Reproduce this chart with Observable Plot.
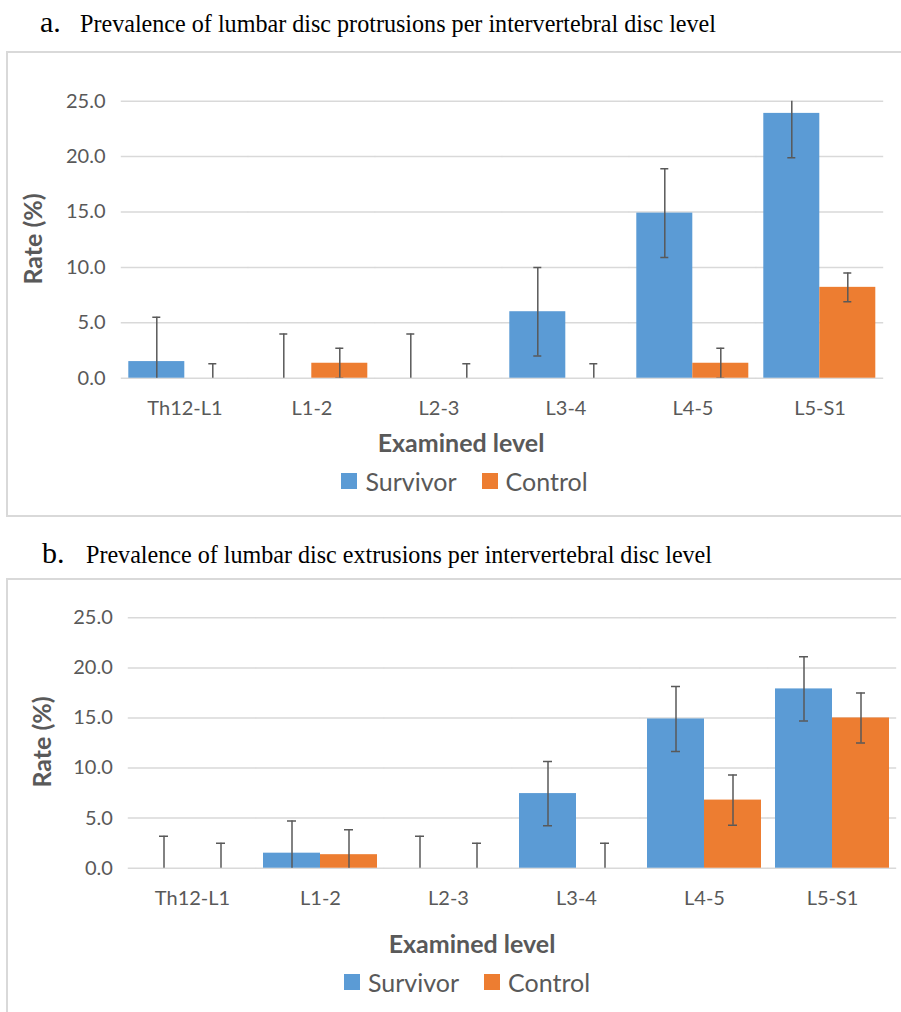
<!DOCTYPE html>
<html><head><meta charset="utf-8">
<script src="https://cdn.jsdelivr.net/npm/d3@7"></script>
<script src="https://cdn.jsdelivr.net/npm/@observablehq/plot@0.6"></script>
<style>
body{margin:0;background:#fff}
#root{position:relative;width:901px;height:1012px;overflow:hidden;background:#fff}
.frame{position:absolute;border:2px solid #d9d9d9;box-sizing:border-box}
.chart{position:absolute;left:0}
#overlay{position:absolute;left:0;top:0;pointer-events:none}
.legend{position:absolute;left:0;display:flex;justify-content:center}
.legend > *{font-family:Lato,sans-serif !important;font-size:25px !important;color:#595959 !important;margin:0 !important}
.legend svg{margin-right:8px !important}
.legend [class$="-swatch"]{margin-right:25px !important}
.legend [class$="-swatch"]:last-child{margin-right:0 !important}
</style></head>
<body><div id="root">
<div class="frame" style="left:6px;top:51px;width:1000px;height:466px"></div>
<div class="frame" style="left:6px;top:578px;width:1000px;height:600px"></div>
<div id="chartA" class="chart" style="top:80px"></div>
<div id="chartB" class="chart" style="top:590px"></div>
<div id="legA" class="legend" style="top:464px;width:929px"></div>
<div id="legB" class="legend" style="top:965px;width:934px"></div>
<svg id="overlay" width="901" height="1012" font-family="Lato, sans-serif" fill="#595959">
  <text x="40" y="32" font-family="Liberation Serif, serif" font-size="30" fill="#000">a.</text>
  <text x="80" y="32" font-family="Liberation Serif, serif" font-size="26" fill="#000" textLength="636" lengthAdjust="spacingAndGlyphs">Prevalence of lumbar disc protrusions per intervertebral disc level</text>
  <text x="42" y="563" font-family="Liberation Serif, serif" font-size="30" fill="#000">b.</text>
  <text x="86" y="563" font-family="Liberation Serif, serif" font-size="26" fill="#000" textLength="626" lengthAdjust="spacingAndGlyphs">Prevalence of lumbar disc extrusions per intervertebral disc level</text>
  <text x="461" y="452" text-anchor="middle" font-size="25" font-weight="bold">Examined level</text>
  <text x="472" y="953" text-anchor="middle" font-size="25" font-weight="bold">Examined level</text>
  <text transform="translate(32,239) rotate(-90)" text-anchor="middle" dominant-baseline="central" font-size="25" font-weight="bold">Rate (%)</text>
  <text transform="translate(40.5,742) rotate(-90)" text-anchor="middle" dominant-baseline="central" font-size="25" font-weight="bold">Rate (%)</text>
</svg>
</div>
<script>
const levels = ["Th12-L1", "L1-2", "L2-3", "L3-4", "L4-5", "L5-S1"];
const groups = ["Survivor", "Control"];
const yTicks = [0, 5, 10, 15, 20, 25];

// a. protrusions
const protSurvivor    = [1.5, 0, 0, 6.0, 14.9, 23.9];
const protSurvivorErr = [4.0, 4.0, 4.0, 4.0, 4.0, 4.0];
const protControl     = [0, 1.35, 0, 0, 1.35, 8.2];
const protControlErr  = [1.3, 1.35, 1.3, 1.3, 1.35, 1.3];

// b. extrusions
const extSurvivor    = [0, 1.5, 0, 7.45, 14.9, 17.9];
const extSurvivorErr = [3.2, 3.2, 3.2, 3.2, 3.25, 3.2];
const extControl     = [0, 1.35, 0, 0, 6.8, 15.0];
const extControlErr  = [2.5, 2.5, 2.5, 2.5, 2.5, 2.5];

const colors = ["#5B9BD5", "#ED7D31"];
const textColor = "#595959";

function rowsOf(sv, se, cv, ce) {
  const rows = [];
  levels.forEach((level, i) => {
    rows.push({level, group: "Survivor", value: sv[i], err: se[i]});
    rows.push({level, group: "Control", value: cv[i], err: ce[i]});
  });
  return rows;
}

function chart(rows, m) {
  return Plot.plot({
    width: 901,
    height: m.height,
    marginTop: m.top, marginBottom: m.bottom, marginLeft: m.left, marginRight: m.right,
    style: {fontFamily: "Lato, sans-serif", fontSize: "20px", color: textColor, background: "transparent", overflow: "visible"},
    fx: {domain: levels, paddingInner: 0.11, paddingOuter: 0.055, label: null, axis: "bottom", tickSize: 0, tickPadding: 23},
    x: {domain: groups, padding: 0, axis: null},
    y: {domain: [0, 25], ticks: yTicks, tickFormat: d3.format(".1f"), tickSize: 0, tickPadding: m.pad, label: null},
    color: {domain: groups, range: colors},
    marks: [
      Plot.ruleY(yTicks, {stroke: "#d9d9d9", strokeWidth: 1.5, insetLeft: -7.2, insetRight: -7.2}),
      Plot.barY(rows, {fx: "level", x: "group", y: "value", fill: "group"}),
      Plot.ruleX(rows, {fx: "level", x: "group", y1: d => d.value - d.err, y2: d => d.value + d.err, stroke: textColor, strokeWidth: 1.5, clip: true}),
      Plot.tickY(rows, {fx: "level", x: "group", y: d => d.value + d.err, stroke: textColor, strokeWidth: 1.5, insetLeft: 24, insetRight: 24, clip: true}),
      Plot.tickY(rows, {fx: "level", x: "group", y: d => d.value - d.err, stroke: textColor, strokeWidth: 1.5, insetLeft: 24, insetRight: 24, clip: true})
    ]
  });
}

const chartA = chart(rowsOf(protSurvivor, protSurvivorErr, protControl, protControlErr),
  {height: 360, top: 20.7, bottom: 62.3, left: 118.7, right: 16.5, pad: 23});
document.getElementById("chartA").appendChild(chartA);

const chartB = chart(rowsOf(extSurvivor, extSurvivorErr, extControl, extControlErr),
  {height: 340, top: 27.3, bottom: 62.3, left: 126, right: 4, pad: 22.7});
document.getElementById("chartB").appendChild(chartB);

function legend(plot) {
  return plot.legend("color", {swatchSize: 16, style: {fontSize: "25px", fontFamily: "Lato, sans-serif", color: textColor}});
}
document.getElementById("legA").appendChild(legend(chartA));
document.getElementById("legB").appendChild(legend(chartB));
</script>
</body></html>
